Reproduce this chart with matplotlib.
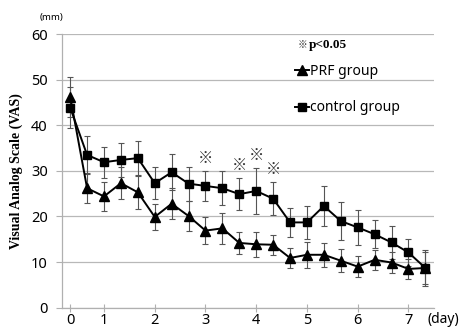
import numpy as np
import matplotlib
matplotlib.use("Agg")
import matplotlib.pyplot as plt
from matplotlib.lines import Line2D

# measurement points (days 0, 0.5, then every 1/3 day)
n_points = 22
tick_index = [0, 2, 5, 8, 11, 14, 17, 20]
tick_labels = ["0", "1", "2", "3", "4", "5", "6", "7"]

prf_mean = [46.3, 26.2, 24.4, 27.3, 25.3, 19.9, 22.8, 20.1, 16.9, 17.4, 14.2,
            13.9, 13.8, 10.9, 11.6, 11.6, 10.3, 9.0, 10.5, 9.9, 8.5, 8.7]
prf_err = [4.4, 3.3, 3.1, 3.5, 3.6, 2.8, 3.4, 3.2, 3.0, 3.4, 2.5,
           2.8, 2.2, 2.2, 2.8, 2.6, 2.5, 2.3, 2.2, 2.3, 2.2, 3.4]

ctrl_mean = [43.9, 33.5, 31.9, 32.4, 32.8, 27.3, 29.7, 27.2, 26.7, 26.2, 24.9,
             25.6, 23.9, 18.7, 18.7, 22.3, 19.0, 17.6, 16.1, 14.3, 12.1, 8.7]
ctrl_err = [4.6, 4.1, 3.4, 3.8, 3.8, 3.5, 4.0, 3.7, 3.3, 3.7, 3.5,
            5.0, 3.6, 3.2, 3.6, 4.3, 4.1, 3.9, 3.1, 3.6, 3.0, 4.0]

significant = [8, 10, 11, 12]

x = np.arange(n_points)

fig = plt.figure(figsize=(4.64, 3.28), dpi=100)
ax = fig.add_axes([0.133, 0.062, 0.802, 0.834])

ebar_color = "#555555"
ax.errorbar(x, ctrl_mean, yerr=ctrl_err, fmt="none", ecolor=ebar_color,
            elinewidth=0.8, capsize=2.2, capthick=0.8, zorder=3)
ax.errorbar(x, prf_mean, yerr=prf_err, fmt="none", ecolor=ebar_color,
            elinewidth=0.8, capsize=2.2, capthick=0.8, zorder=3)
ax.plot(x, ctrl_mean, color="black", lw=1.4, marker="s", ms=6.2, zorder=4)
ax.plot(x, prf_mean, color="black", lw=1.4, marker="^", ms=7.5, zorder=4)

# significance marks above the control error bars
for i in significant:
    ax.annotate("※", (i, ctrl_mean[i] + ctrl_err[i]), xytext=(0, 9),
                textcoords="offset points", ha="center", va="center",
                fontsize=11, color="#333333", family=["Noto Sans CJK JP", "DejaVu Sans"])

ax.set_xlim(-0.5, n_points - 0.5)
ax.set_ylim(0, 60)
ax.set_yticks(range(0, 61, 10))
ax.set_xticks(tick_index)
ax.set_xticklabels(tick_labels)

ax.grid(axis="y", color="#b8b8b8", lw=0.9)
ax.set_axisbelow(True)
for side in ["top", "right"]:
    ax.spines[side].set_visible(False)
for side in ["left", "bottom"]:
    ax.spines[side].set_color("#b0b0b0")
    ax.spines[side].set_linewidth(0.9)

ax.tick_params(axis="y", length=4, color="#b0b0b0", labelsize=10.5, pad=6)
ax.tick_params(axis="x", direction="inout", length=6, color="#b0b0b0",
               labelsize=10.5, pad=0.5)
for lab in ax.get_xticklabels() + ax.get_yticklabels():
    lab.set_family("Noto Sans")

ax.set_ylabel("Visual Analog Scale (VAS)", family="Liberation Serif",
              fontweight="bold", fontsize=10, labelpad=6)
fig.text(0.086, 0.948, "(mm)", fontsize=7, family="Noto Sans", ha="left", va="center")
fig.text(0.922, 0.025, "(day)", fontsize=10, family="Noto Sans", ha="left", va="center")

# legend
fig.text(0.641, 0.862, "※", fontsize=7, color="#333333",
         family=["Noto Sans CJK JP", "DejaVu Sans"], ha="left", va="center")
fig.text(0.666, 0.862, "p<0.05", fontsize=9.5, fontweight="bold",
         family="Liberation Serif", ha="left", va="center")
handles = [Line2D([], [], color="black", lw=1.4, marker="^", ms=7),
           Line2D([], [], color="black", lw=1.4, marker="s", ms=6)]
leg = ax.legend(handles, ["PRF group", "control group"], loc="upper left",
                bbox_to_anchor=(0.636, 0.805), bbox_transform=fig.transFigure,
                frameon=False, handlelength=1.0, handletextpad=0.1,
                labelspacing=1.55, borderpad=0, borderaxespad=0,
                prop={"family": "Noto Sans", "size": 10})

fig.savefig("out.png", dpi=100)
